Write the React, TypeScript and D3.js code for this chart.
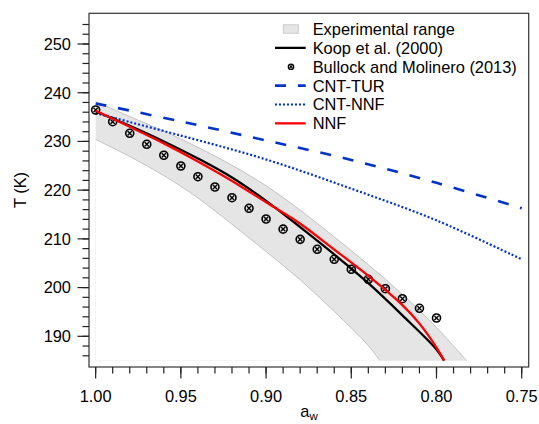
import React from 'react';
import * as d3 from 'd3';

// ---- data ----
const bullockAw = [1.0, 0.99, 0.98, 0.97, 0.96, 0.95, 0.94, 0.93, 0.92, 0.91, 0.9, 0.89, 0.88, 0.87, 0.86, 0.85, 0.84, 0.83, 0.82, 0.81, 0.8];
const bullockT = [236.45, 234.05, 231.67, 229.41, 227.16, 224.96, 222.76, 220.65, 218.45, 216.28, 214.08, 212.0, 209.9, 207.86, 205.81, 203.76, 201.7, 199.77, 197.72, 195.75, 193.76];

const koopAw = [1.0, 0.98, 0.96, 0.94, 0.92, 0.9, 0.88, 0.86, 0.84, 0.82, 0.8, 0.7955];
const koopT = [236.2, 233.2, 230.0, 226.5, 222.6, 217.8, 212.4, 206.8, 200.9, 194.3, 187.3, 185.0];

const nnfAw = [1.0, 0.98, 0.96, 0.94, 0.92, 0.9, 0.88, 0.86, 0.84, 0.82, 0.81, 0.8, 0.7955];
const nnfT = [236.3, 233.0, 229.6, 225.9, 221.9, 217.5, 213.1, 207.8, 202.4, 196.4, 192.6, 187.7, 185.0];

const cntTurAw = [1.0, 0.95, 0.9, 0.85, 0.8, 0.75];
const cntTurT = [237.8, 234.1, 230.2, 226.2, 221.5, 216.3];

const cntNnfAw = [1.0, 0.95, 0.9, 0.85, 0.8, 0.75];
const cntNnfT = [235.8, 231.2, 226.3, 220.3, 213.8, 205.8];

const bandUpperAw = [1.0, 0.98, 0.96, 0.94, 0.92, 0.9, 0.88, 0.86, 0.84, 0.82, 0.8, 0.7823];
const bandUpperT = [238.2, 235.1, 232.1, 228.8, 225.1, 220.9, 215.9, 210.4, 204.7, 198.6, 191.8, 185.0];
const bandLowerAw = [1.0, 0.98, 0.96, 0.94, 0.92, 0.9, 0.88, 0.86, 0.84, 0.8332];
const bandLowerT = [230.4, 226.9, 223.0, 218.4, 213.0, 207.4, 201.6, 195.1, 188.1, 185.0];
const bandFloorT = 185.0;

const xMajorTicks = [1.0, 0.95, 0.9, 0.85, 0.8, 0.75];
const xMajorLabels = ['1.00', '0.95', '0.90', '0.85', '0.80', '0.75'];
const xMinorTicks = d3.range(0, 26).map((i) => +(1.0 - i * 0.01).toFixed(2));
const yMajorTicks = [190, 200, 210, 220, 230, 240, 250];
const yMajorLabels = ['190', '200', '210', '220', '230', '240', '250'];
const yMinorTicks = d3.range(186, 256, 2);

const legendLabels = ['Experimental range', 'Koop et al. (2000)', 'Bullock and Molinero (2013)', 'CNT-TUR', 'CNT-NNF', 'NNF'];

// ---- layout ----
const W = 539;
const H = 424;
const L = 89;
const R = 528.7;
const T0 = 13.3;
const B = 367;
const FONT = 'Liberation Sans, Arial, Helvetica, sans-serif';
const FS = 16.4;
const BLUE = '#0033cc';

const x = d3.scaleLinear().domain([1.0039, 0.7459]).range([L, R]);
const y = d3.scaleLinear().domain([183.7, 256.3]).range([B, T0]);

type P = [number, number];
const pts = (aw: number[], t: number[]): P[] => aw.map((a, i) => [x(a), y(t[i])] as P);

const lineGen = d3.line<P>().x((d) => d[0]).y((d) => d[1]).curve(d3.curveCatmullRom.alpha(0.5));

function Marker({ cx, cy, r, sw }: { cx: number; cy: number; r: number; sw: number }) {
  const c = r * 0.55;
  return (
    <g>
      <circle cx={cx} cy={cy} r={r} fill="none" stroke="#000" strokeWidth={sw} />
      <path d={`M${cx - c},${cy - c}L${cx + c},${cy + c}M${cx - c},${cy + c}L${cx + c},${cy - c}`} stroke="#000" strokeWidth={sw * 0.85} />
    </g>
  );
}

export default function App() {
  const upper = pts(bandUpperAw, bandUpperT);
  const lower = pts(bandLowerAw, bandLowerT);
  const upperD = lineGen(upper) as string;
  const lowerRevD = (lineGen([...lower].reverse()) as string).replace(/^M/, 'L');
  const bandD = `${upperD}L${x(bandLowerAw[bandLowerAw.length - 1])},${y(bandFloorT)}${lowerRevD}Z`;
  const faintD = `M${x(1.0)},${y(bandLowerT[0])}L${x(1.0)},${y(bandFloorT)}L${x(bandLowerAw[bandLowerAw.length - 1])},${y(bandFloorT)}`;

  const legX0 = 275;
  const legX1 = 305.7;
  const legTextX = 312.7;
  const legCenters = legendLabels.map((_, i) => 29 + i * 18.87);

  return (
    <svg width={W} height={H} style={{ position: 'absolute', left: 0, top: 0 }} fontFamily={FONT}>
      <rect width={W} height={H} fill="#fff" />
      <defs>
        <clipPath id="plotclip">
          <rect x={L} y={T0} width={R - L} height={B - T0} />
        </clipPath>
      </defs>
      <g clipPath="url(#plotclip)">
        <path d={bandD} fill="#e5e5e5" stroke="none" />
        <path d={upperD} fill="none" stroke="#c2c2c2" strokeWidth={1} />
        <path d={lineGen(lower) as string} fill="none" stroke="#c2c2c2" strokeWidth={1} />
        <path d={faintD} fill="none" stroke="#f3f3f3" strokeWidth={1} />
        <path d={lineGen(pts(cntTurAw, cntTurT)) as string} fill="none" stroke={BLUE} strokeWidth={2.6} strokeDasharray="11 12" />
        <path d={lineGen(pts(cntNnfAw, cntNnfT)) as string} fill="none" stroke={BLUE} strokeWidth={2.2} strokeDasharray="2 2" />
        <path d={lineGen(pts(koopAw, koopT)) as string} fill="none" stroke="#000" strokeWidth={2.3} />
        {bullockAw.map((a, i) => (
          <Marker key={i} cx={x(a)} cy={y(bullockT[i])} r={4} sw={1.6} />
        ))}
        <path d={lineGen(pts(nnfAw, nnfT)) as string} fill="none" stroke="#ff0000" strokeWidth={2.3} />
      </g>

      {/* frame */}
      <rect x={L} y={T0} width={R - L} height={B - T0} fill="none" stroke="#333" strokeWidth={1.2} />

      {/* x axis ticks */}
      {xMinorTicks.map((t, i) => (
        <line key={'xm' + i} x1={x(t)} x2={x(t)} y1={B} y2={B + 6.5} stroke="#222" strokeWidth={1.2} />
      ))}
      {xMajorTicks.map((t, i) => (
        <g key={'xM' + i}>
          <line x1={x(t)} x2={x(t)} y1={B} y2={B + 11.5} stroke="#222" strokeWidth={1.2} />
          <text x={x(t)} y={402} textAnchor="middle" fontSize={FS} fill="#000">
            {xMajorLabels[i]}
          </text>
        </g>
      ))}

      {/* y axis ticks */}
      {yMinorTicks.map((t, i) => (
        <line key={'ym' + i} x1={L - 6.5} x2={L} y1={y(t)} y2={y(t)} stroke="#222" strokeWidth={1.2} />
      ))}
      {yMajorTicks.map((t, i) => (
        <g key={'yM' + i}>
          <line x1={L - 11.5} x2={L} y1={y(t)} y2={y(t)} stroke="#222" strokeWidth={1.2} />
          <text x={71} y={y(t) + 5.9} textAnchor="end" fontSize={FS} fill="#000">
            {yMajorLabels[i]}
          </text>
        </g>
      ))}

      {/* axis titles */}
      <text transform="translate(26,190) rotate(-90)" textAnchor="middle" fontSize={FS} fill="#000">
        T (K)
      </text>
      <text x={309} y={416.5} textAnchor="middle" fontSize={FS} fill="#000">
        a<tspan fontSize={11.5} dy={3.5}>w</tspan>
      </text>

      {/* legend */}
      <g>
        <rect x={283.3} y={legCenters[0] - 4.2} width={15} height={8.4} fill="#e5e5e5" stroke="#c2c2c2" strokeWidth={0.8} />
        <line x1={legX0} x2={legX1} y1={legCenters[1]} y2={legCenters[1]} stroke="#000" strokeWidth={2.3} />
        <Marker cx={291} cy={legCenters[2]} r={2.7} sw={1.3} />
        <line x1={legX0} x2={legX1} y1={legCenters[3]} y2={legCenters[3]} stroke={BLUE} strokeWidth={2.6} strokeDasharray="11 12" />
        <line x1={legX0} x2={legX1} y1={legCenters[4]} y2={legCenters[4]} stroke={BLUE} strokeWidth={2.2} strokeDasharray="2 2" />
        <line x1={legX0} x2={legX1} y1={legCenters[5]} y2={legCenters[5]} stroke="#ff0000" strokeWidth={2.3} />
        {legendLabels.map((lab, i) => (
          <text key={'lg' + i} x={legTextX} y={legCenters[i] + 5.9} fontSize={FS} fill="#000">
            {lab}
          </text>
        ))}
      </g>
    </svg>
  );
}
